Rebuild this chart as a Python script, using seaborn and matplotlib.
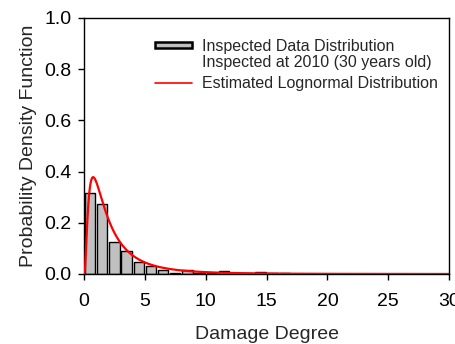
import numpy as np
import pandas as pd
import matplotlib
matplotlib.use("Agg")
import matplotlib.pyplot as plt
import seaborn as sns
from matplotlib.patches import Rectangle
from matplotlib.legend_handler import HandlerPatch

# Data
bin_centers = [0.5, 1.5, 2.5, 3.5, 4.5, 5.5, 6.5, 7.5, 8.5, 9.5, 10.5, 11.5, 12.5, 13.5, 14.5, 15.5, 16.5]
densities = [0.315, 0.275, 0.126, 0.090, 0.046, 0.030, 0.016, 0.004, 0.016, 0.002, 0.002, 0.012, 0.002, 0.002, 0.008, 0.004, 0.004]
lognorm_mu = 0.56
lognorm_sigma = 0.92
x_ticks = [0, 5, 10, 15, 20, 25, 30]
y_ticks = [0.0, 0.2, 0.4, 0.6, 0.8, 1.0]

sns.set_style("ticks")
plt.rcParams['font.family'] = ['Liberation Sans', 'DejaVu Sans']

fig = plt.figure(figsize=(4.55, 3.44), dpi=100)
ax = fig.add_axes([0.1846, 0.2035, 0.8024, 0.7445])

bars_df = pd.DataFrame({"x": bin_centers, "y": densities})
sns.barplot(data=bars_df, x="x", y="y", native_scale=True, width=0.85,
            color="#c0c0c0", edgecolor="black", linewidth=1.0, saturation=1,
            ax=ax, zorder=2)

xs = np.linspace(0.001, 30, 1500)
pdf = np.exp(-(np.log(xs) - lognorm_mu) ** 2 / (2 * lognorm_sigma ** 2)) / (xs * lognorm_sigma * np.sqrt(2 * np.pi))
curve_df = pd.DataFrame({"x": np.concatenate([[0.0], xs]), "y": np.concatenate([[0.0], pdf])})
sns.lineplot(data=curve_df, x="x", y="y", color="#ff0000", linewidth=1.6, ax=ax, zorder=3)

ax.set_xlim(0, 30)
ax.set_ylim(0, 1.0)
ax.set_xticks(x_ticks)
ax.set_yticks(y_ticks)
ax.set_xticklabels([str(t) for t in x_ticks])
ax.set_yticklabels([f"{t:.1f}" for t in y_ticks])
ax.tick_params(axis="both", labelsize=14, length=4, width=1, direction="out",
               colors="black")
ax.tick_params(axis="x", pad=10)
ax.tick_params(axis="y", pad=5)
for s in ax.spines.values():
    s.set_visible(True)
    s.set_linewidth(1.0)
    s.set_color("black")
ax.set_xlabel("Damage Degree", fontsize=14, labelpad=11)
ax.set_ylabel("Probability Density Function", fontsize=14, labelpad=5)


class TopPatchHandler(HandlerPatch):
    def create_artists(self, legend, orig_handle, xdescent, ydescent,
                       width, height, fontsize, trans):
        p = Rectangle((-xdescent, -ydescent + 0.75 * fontsize), width, 5.0,
                      facecolor="#c0c0c0", edgecolor="black", linewidth=1.8,
                      transform=trans)
        return [p]


bar_handle = Rectangle((0, 0), 1, 1, facecolor="#c0c0c0", edgecolor="black")
line_handle = plt.Line2D([], [], color="#ff0000", linewidth=1.2)
leg = ax.legend([bar_handle, line_handle],
                ["Inspected Data Distribution\nInspected at 2010 (30 years old)",
                 "Estimated Lognormal Distribution"],
                handler_map={Rectangle: TopPatchHandler()},
                loc="upper right", bbox_to_anchor=(0.995, 0.955), frameon=False,
                fontsize=11.5, handlelength=2.3, handletextpad=0.6,
                labelspacing=0.4, borderaxespad=0.2)
for t in leg.get_texts():
    t.set_linespacing(1.08)

fig.savefig("out.png", dpi=100)
